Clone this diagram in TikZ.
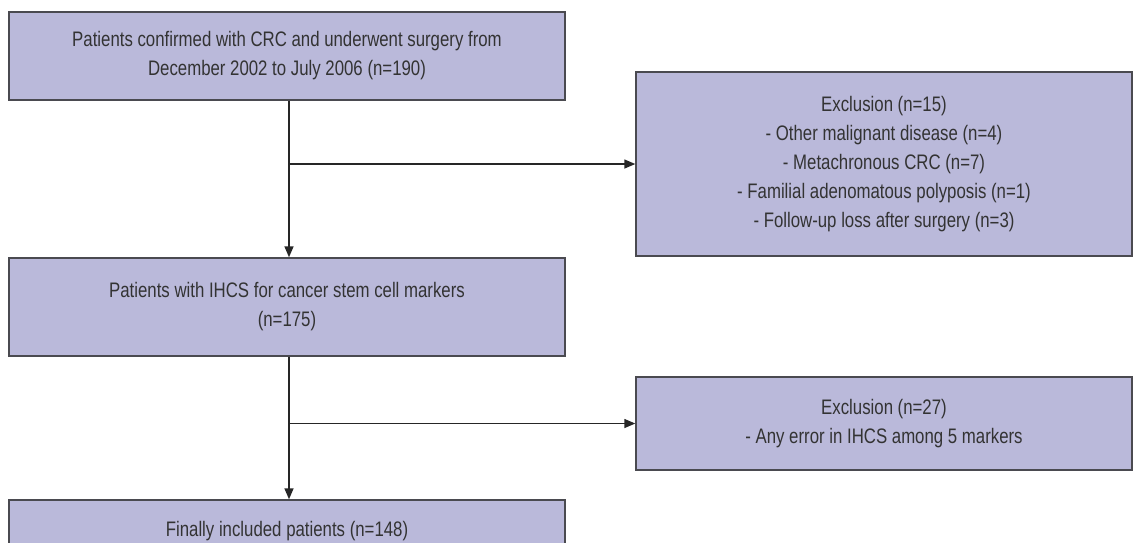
\documentclass[tikz,border=0pt]{standalone}
\usepackage{fontspec}
\setmainfont{Liberation Sans}[FakeStretch=0.8]
\usetikzlibrary{arrows.meta}
\definecolor{boxfill}{HTML}{BAB9DA}
\definecolor{boxline}{HTML}{4A4A50}
\definecolor{txt}{HTML}{333333}
\tikzset{
  flowbox/.style={draw=boxline, fill=boxfill, line width=1.4pt, align=center,
    text=txt, font=\fontsize{21}{29}\selectfont, inner sep=0pt},
  conn/.style={draw=black!85, line width=1.4pt},
  arr/.style={conn, -{Triangle[length=11pt,width=9pt]}}
}
\begin{document}
\begin{tikzpicture}[x=1pt,y=-1pt]
\useasboundingbox (0,0) rectangle (1133,542);
\node[flowbox, minimum width=556pt, minimum height=88pt] (b1) at (287,56)
  {Patients confirmed with CRC and underwent surgery from\\December 2002 to July 2006 (n=190)};
\node[flowbox, minimum width=496pt, minimum height=184pt] (b3) at (884,164)
  {Exclusion (n=15)\\- Other malignant disease (n=4)\\- Metachronous CRC (n=7)\\- Familial adenomatous polyposis (n=1)\\- Follow-up loss after surgery (n=3)};
\node[flowbox, minimum width=556pt, minimum height=98pt] (b2) at (287,307)
  {Patients with IHCS for cancer stem cell markers\\(n=175)};
\node[flowbox, minimum width=496pt, minimum height=93pt] (b4) at (884,423.5)
  {Exclusion (n=27)\\- Any error in IHCS among 5 markers};
\node[flowbox, minimum width=556pt, minimum height=62pt] (b5) at (287,531)
  {Finally included patients (n=148)};
\coordinate (j1) at (289,164);
\coordinate (j2) at (289,423.5);
\draw[arr] ([xshift=2pt]b1.south) -- ([xshift=2pt]b2.north);
\draw[arr] (j1) -- (j1 -| b3.west);
\draw[arr] ([xshift=2pt]b2.south) -- ([xshift=2pt]b5.north);
\draw[arr] (j2) -- (j2 -| b4.west);
\end{tikzpicture}
\end{document}
